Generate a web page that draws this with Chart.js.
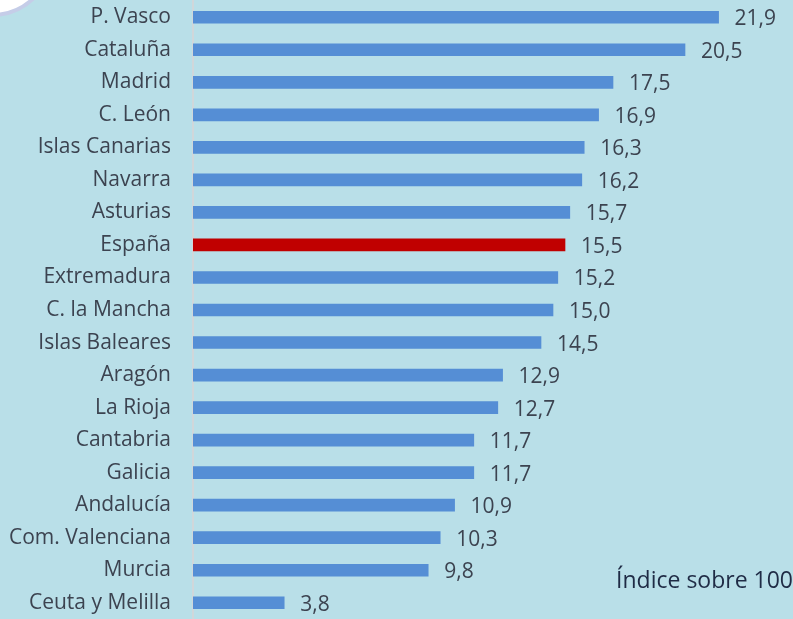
<!DOCTYPE html>
<html>
<head>
<meta charset="utf-8">
<script src="https://cdn.jsdelivr.net/npm/chart.js@4/dist/chart.umd.min.js"></script>
<style>
html,body{margin:0;padding:0;background:#b9dfe8;}
#wrap{width:793px;height:619px;position:relative;}
</style>
</head>
<body>
<div id="wrap"><canvas id="c" width="793" height="619"></canvas></div>
<script>
const categories = ["P. Vasco","Cataluña","Madrid","C. León","Islas Canarias","Navarra","Asturias","España","Extremadura","C. la Mancha","Islas Baleares","Aragón","La Rioja","Cantabria","Galicia","Andalucía","Com. Valenciana","Murcia","Ceuta y Melilla"];
const values = [21.9,20.5,17.5,16.9,16.3,16.2,15.7,15.5,15.2,15.0,14.5,12.9,12.7,11.7,11.7,10.9,10.3,9.8,3.8];
const highlight = "España";
const note = "Índice sobre 100";

const blue = "#558ed5", red = "#c00000";
const colors = categories.map(c => c === highlight ? red : blue);

const deco = {
  id: 'deco',
  beforeDraw(chart) {
    const ctx = chart.ctx;
    ctx.save();
    ctx.fillStyle = '#b9dfe8';
    ctx.fillRect(0,0,chart.width,chart.height);
    ctx.beginPath();
    ctx.arc(-8,-45,60,0,Math.PI*2);
    ctx.fillStyle = '#ffffff';
    ctx.fill();
    ctx.lineWidth = 4;
    ctx.strokeStyle = '#c5cde8';
    ctx.stroke();
    ctx.restore();
  },
  afterDatasetsDraw(chart) {
    const ctx = chart.ctx;
    const meta = chart.getDatasetMeta(0);
    ctx.save();
    ctx.font = '21px "Open Sans", sans-serif';
    ctx.fillStyle = '#3c4350';
    ctx.textBaseline = 'middle';
    ctx.textAlign = 'left';
    meta.data.forEach((bar, i) => {
      ctx.fillText(values[i].toFixed(1).replace('.', ','), bar.x + 16, bar.y + 2);
    });
    ctx.font = '23px "Open Sans", sans-serif';
    ctx.fillStyle = '#1f2b45';
    ctx.textAlign = 'right';
    ctx.fillText(note, 793, 581);
    ctx.restore();
  }
};

new Chart(document.getElementById('c'), {
  type: 'bar',
  data: {
    labels: categories,
    datasets: [{
      data: values,
      backgroundColor: colors,
      borderWidth: 0,
      barThickness: 12
    }]
  },
  options: {
    indexAxis: 'y',
    responsive: false,
    animation: false,
    layout: { padding: { top: 1, bottom: -4, left: 0, right: 0 } },
    plugins: { legend: { display: false }, tooltip: { enabled: false } },
    scales: {
      x: {
        display: false,
        min: 0,
        max: 25
      },
      y: {
        grid: { display: false, drawTicks: false },
        border: { display: true, color: '#d0d7da', width: 2 },
        ticks: {
          color: '#3c4350',
          font: { family: '"Open Sans", sans-serif', size: 21 },
          padding: 22
        },
        afterFit(scale) {
          scale.width = 193;
          scale.paddingTop = 0;
          scale.paddingBottom = 0;
        }
      }
    }
  },
  plugins: [deco]
});
</script>
</body>
</html>
